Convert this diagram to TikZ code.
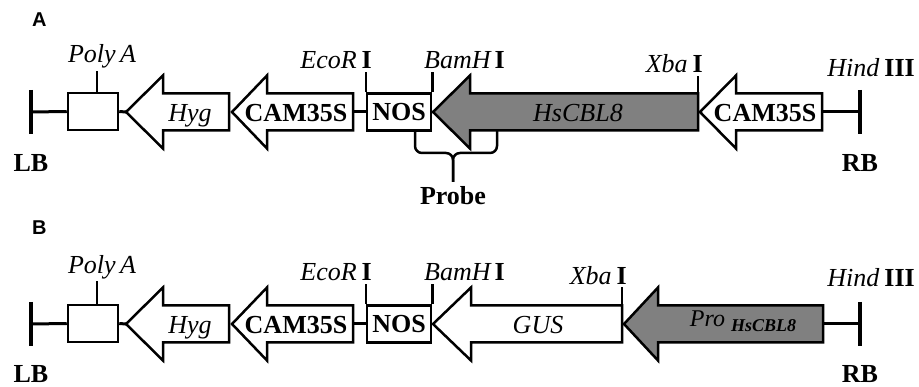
\documentclass[tikz,border=0pt]{standalone}
\usepackage{fontspec}
\setmainfont{Liberation Serif}
\newfontfamily\panelfont{Liberation Sans}
\usepackage{xcolor}
\definecolor{genegray}{RGB}{128,128,128}
\tikzstyle{backbone}=[line width=3pt]
\tikzstyle{border}=[line width=4pt]
\tikzstyle{element}=[draw, line width=2.5pt, line join=miter, fill=white]
\tikzstyle{site}=[line width=2.5pt]
\tikzset{lbl/.style={inner sep=0pt, anchor=base, font=\fontsize{26}{28}\selectfont}}
\tikzset{panel/.style={inner sep=0pt, anchor=base west, font=\panelfont\bfseries\fontsize{20}{22}\selectfont}}
\tikzset{polybox/.style={element, minimum width=50pt, minimum height=37pt, inner sep=0pt}}
\tikzset{nosbox/.style={element, minimum width=64pt, minimum height=37pt, inner sep=0pt, font=\fontsize{26}{28}\selectfont\bfseries}}

\begin{document}
\begin{tikzpicture}[x=1pt,y=-1pt]
  \useasboundingbox (0,0) rectangle (919,387);

  %% Panel A
  \draw (32,27) node[panel] (PanelA) {A};

  \coordinate (LB1) at (31,112);
  \draw[border] (31,90) -- (31,134);
  \draw (31,172) node[lbl,font=\fontsize{26}{28}\selectfont\bfseries] (LBlbl1) {LB};

  \draw (93,111.5) node[polybox] (PA1) {};
  \draw[site] ([xshift=4pt]PA1.north) -- ++(0,-21);
  \draw (102,63) node[lbl] (PAlbl1) {\itshape Poly\,A};

  \coordinate (Hyg1tip) at (126,112);
  \draw[element] (126,112) -- (163,75.5) -- (163,93.5) -- (229,93.5) -- (229,130.5) -- (163,130.5) -- (163,148.5) -- cycle;
  \draw (190,122) node[lbl] (Hyg1) {\itshape Hyg};

  \coordinate (CAM1end) at (353,112);
  \draw[element] (232,112) -- (267,75.5) -- (267,93.5) -- (353,93.5) -- (353,130.5) -- (267,130.5) -- (267,148.5) -- cycle;
  \draw (296,122) node[lbl,font=\fontsize{26}{28}\selectfont\bfseries] (CAM1) {CAM35S};

  \draw (399,112) node[nosbox] (NOS1) {NOS};
  \draw[site] (NOS1.north west) -- ++(0,-20.5);
  \draw[site] (NOS1.north east) -- ++(0,-20.5);
  \draw (372,69) node[lbl,anchor=base east] (Eco1) {\itshape EcoR\hspace{5pt}\upshape\bfseries I};
  \draw (424,69) node[lbl,anchor=base west] (Bam1) {\itshape BamH\hspace{4pt}\upshape\bfseries I};

  \draw[element,fill=genegray] (433,112) -- (470,75.5) -- (470,93.5) -- (698,93.5) -- (698,130.5) -- (470,130.5) -- (470,148.5) -- cycle;
  \draw (578,122) node[lbl] (CBL1) {\itshape HsCBL8};
  \draw[site] (698,93.5) -- (698,76);
  \draw (703,73) node[lbl,anchor=base east] (Xba1) {\itshape Xba\hspace{5pt}\upshape\bfseries I};

  \coordinate (CAM2end) at (822,112);
  \draw[element] (700,112) -- (736,75.5) -- (736,93.5) -- (822,93.5) -- (822,130.5) -- (736,130.5) -- (736,148.5) -- cycle;
  \draw (765,122) node[lbl,font=\fontsize{26}{28}\selectfont\bfseries] (CAM2) {CAM35S};

  \coordinate (RB1) at (860,112);
  \draw[border] (860,90) -- (860,134);
  \draw (860,172) node[lbl,font=\fontsize{26}{28}\selectfont\bfseries] (RBlbl1) {RB};
  \draw (915,77) node[lbl,anchor=base east] (Hind1) {\itshape Hind\hspace{5pt}\upshape\bfseries III};

  %% backbone A
  \draw[backbone] (LB1) -- (PA1.west);
  \draw[backbone] (PA1.east) -- (Hyg1tip);
  \draw[backbone] (CAM1end) -- (NOS1.west);
  \draw[backbone] (CAM2end) -- (RB1);

  %% Probe
  \coordinate (Probetip) at (453,182);
  \draw[site,rounded corners=7pt] (415,130.5) |- (453,153) -- (Probetip);
  \draw[site,rounded corners=7pt] (497,130.5) |- (453,153) -- (Probetip);
  \draw (453,205) node[lbl,font=\fontsize{26}{28}\selectfont\bfseries] (Probe) {Probe};

  %% Panel B
  \draw (32,235) node[panel] (PanelB) {B};

  \coordinate (LB2) at (31,324);
  \draw[border] (31,302) -- (31,346);
  \draw (31,383) node[lbl,font=\fontsize{26}{28}\selectfont\bfseries] (LBlbl2) {LB};

  \draw (93,323.5) node[polybox] (PA2) {};
  \draw[site] ([xshift=4pt]PA2.north) -- ++(0,-22.5);
  \draw (102,274) node[lbl] (PAlbl2) {\itshape Poly\,A};

  \coordinate (Hyg2tip) at (126,324);
  \draw[element] (126,324) -- (163,287.5) -- (163,305.5) -- (229,305.5) -- (229,342.5) -- (163,342.5) -- (163,360.5) -- cycle;
  \draw (190,333.5) node[lbl] (Hyg2) {\itshape Hyg};

  \coordinate (CAM3end) at (353,324);
  \draw[element] (232,324) -- (267,287.5) -- (267,305.5) -- (353,305.5) -- (353,342.5) -- (267,342.5) -- (267,360.5) -- cycle;
  \draw (296,333.5) node[lbl,font=\fontsize{26}{28}\selectfont\bfseries] (CAM3) {CAM35S};

  \draw (399,324) node[nosbox] (NOS2) {NOS};
  \draw[site] (NOS2.north west) -- ++(0,-20.5);
  \draw[site] (NOS2.north east) -- ++(0,-20.5);
  \draw (372,281) node[lbl,anchor=base east] (Eco2) {\itshape EcoR\hspace{5pt}\upshape\bfseries I};
  \draw (424,281) node[lbl,anchor=base west] (Bam2) {\itshape BamH\hspace{4pt}\upshape\bfseries I};

  \draw[element] (433,324) -- (471,287.5) -- (471,305.5) -- (622,305.5) -- (622,342.5) -- (471,342.5) -- (471,360.5) -- cycle;
  \draw (538,333.5) node[lbl] (GUS2) {\itshape GUS};
  \draw[site] (622,305.5) -- (622,287);
  \draw (627,285) node[lbl,anchor=base east] (Xba2) {\itshape Xba\hspace{5pt}\upshape\bfseries I};

  \coordinate (Pro2end) at (823,324);
  \draw[element,fill=genegray] (624,324) -- (658,287.5) -- (658,305.5) -- (823,305.5) -- (823,342.5) -- (658,342.5) -- (658,360.5) -- cycle;
  \draw (743,327) node[lbl] (Pro2) {\fontsize{24}{26}\selectfont\itshape Pro\hspace{6pt}\raisebox{-5pt}{\fontsize{18}{19}\selectfont\bfseries\itshape HsCBL8}};

  \coordinate (RB2) at (860,324);
  \draw[border] (860,302) -- (860,346);
  \draw (860,383) node[lbl,font=\fontsize{26}{28}\selectfont\bfseries] (RBlbl2) {RB};
  \draw (915,287) node[lbl,anchor=base east] (Hind2) {\itshape Hind\hspace{5pt}\upshape\bfseries III};

  %% backbone B
  \draw[backbone] (LB2) -- (PA2.west);
  \draw[backbone] (PA2.east) -- (Hyg2tip);
  \draw[backbone] (CAM3end) -- (NOS2.west);
  \draw[backbone] (Pro2end) -- (RB2);
\end{tikzpicture}
\end{document}
